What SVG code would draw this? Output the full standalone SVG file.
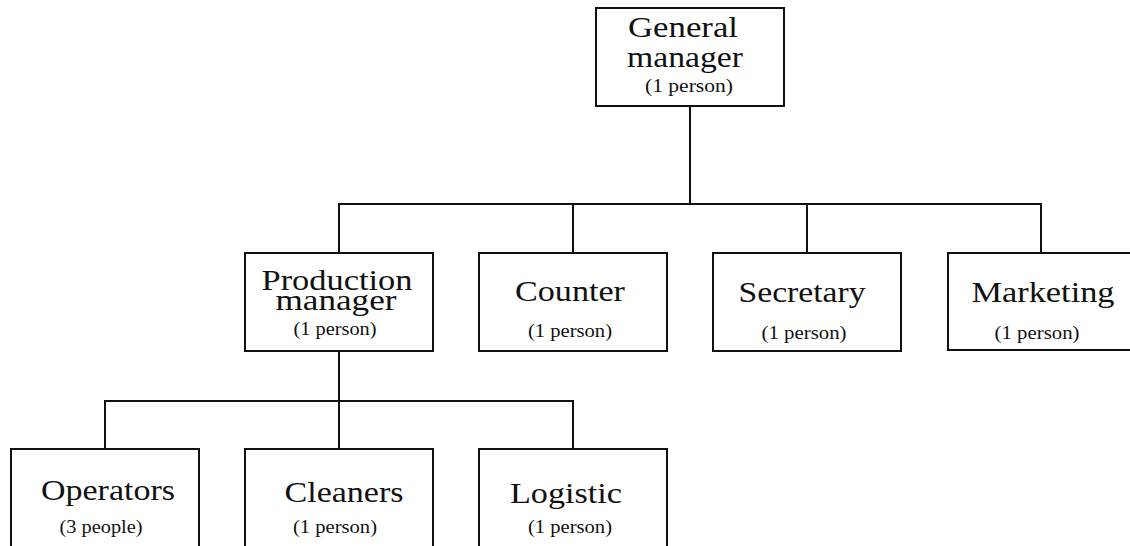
<svg xmlns="http://www.w3.org/2000/svg" width="1130" height="546" viewBox="0 0 1130 546">
  <style>
    .box { fill: #ffffff; stroke: #111111; stroke-width: 2; }
    .link { fill: none; stroke: #111111; stroke-width: 2; }
    .label { fill: #111111; text-anchor: middle; }
    .title { font-size: 30px; }
    .count { font-size: 18px; }
  </style>
  <rect width="1130" height="546" fill="#ffffff"/>

  <!-- connectors -->
  <g id="connectors">
    <path class="link" d="M690,106 V204"/>
    <path class="link" d="M339,253 V204 H1041 V253"/>
    <path class="link" d="M573,204 V253"/>
    <path class="link" d="M807,204 V253"/>
    <path class="link" d="M339,351 V449"/>
    <path class="link" d="M105,449 V401 H573 V449"/>
  </g>

  <g class="label" font-family="Liberation Serif, Times New Roman, Noto Serif, serif">
    <g id="general-manager">
      <rect class="box" x="596" y="8" width="188" height="98"/>
      <text class="title" x="683" y="37" textLength="110" lengthAdjust="spacingAndGlyphs">General</text>
      <text class="title" x="685" y="67" textLength="116" lengthAdjust="spacingAndGlyphs">manager</text>
      <text class="count" x="689" y="92" textLength="88" lengthAdjust="spacingAndGlyphs">(1 person)</text>
    </g>

    <g id="production-manager">
      <rect class="box" x="245" y="253" width="188" height="98"/>
      <text class="title" x="337" y="290" textLength="151" lengthAdjust="spacingAndGlyphs">Production</text>
      <text class="title" x="336" y="310" textLength="121" lengthAdjust="spacingAndGlyphs">manager</text>
      <text class="count" x="335" y="335" textLength="83" lengthAdjust="spacingAndGlyphs">(1 person)</text>
    </g>

    <g id="counter">
      <rect class="box" x="479" y="253" width="188" height="98"/>
      <text class="title" x="570" y="301" textLength="110" lengthAdjust="spacingAndGlyphs">Counter</text>
      <text class="count" x="570" y="337" textLength="84" lengthAdjust="spacingAndGlyphs">(1 person)</text>
    </g>

    <g id="secretary">
      <rect class="box" x="713" y="253" width="188" height="98"/>
      <text class="title" x="802" y="302" textLength="127" lengthAdjust="spacingAndGlyphs">Secretary</text>
      <text class="count" x="804" y="339" textLength="85" lengthAdjust="spacingAndGlyphs">(1 person)</text>
    </g>

    <g id="marketing">
      <rect class="box" x="948" y="253" width="190" height="97"/>
      <text class="title" x="1043" y="302" textLength="143" lengthAdjust="spacingAndGlyphs">Marketing</text>
      <text class="count" x="1037" y="339" textLength="85" lengthAdjust="spacingAndGlyphs">(1 person)</text>
    </g>

    <g id="operators">
      <rect class="box" x="11" y="449" width="188" height="110"/>
      <text class="title" x="108" y="500" textLength="134" lengthAdjust="spacingAndGlyphs">Operators</text>
      <text class="count" x="101" y="533" textLength="83" lengthAdjust="spacingAndGlyphs">(3 people)</text>
    </g>

    <g id="cleaners">
      <rect class="box" x="245" y="449" width="188" height="110"/>
      <text class="title" x="344" y="502" textLength="119" lengthAdjust="spacingAndGlyphs">Cleaners</text>
      <text class="count" x="335" y="533" textLength="84" lengthAdjust="spacingAndGlyphs">(1 person)</text>
    </g>

    <g id="logistic">
      <rect class="box" x="479" y="449" width="188" height="110"/>
      <text class="title" x="566" y="503" textLength="112" lengthAdjust="spacingAndGlyphs">Logistic</text>
      <text class="count" x="570" y="533" textLength="84" lengthAdjust="spacingAndGlyphs">(1 person)</text>
    </g>
  </g>
</svg>
